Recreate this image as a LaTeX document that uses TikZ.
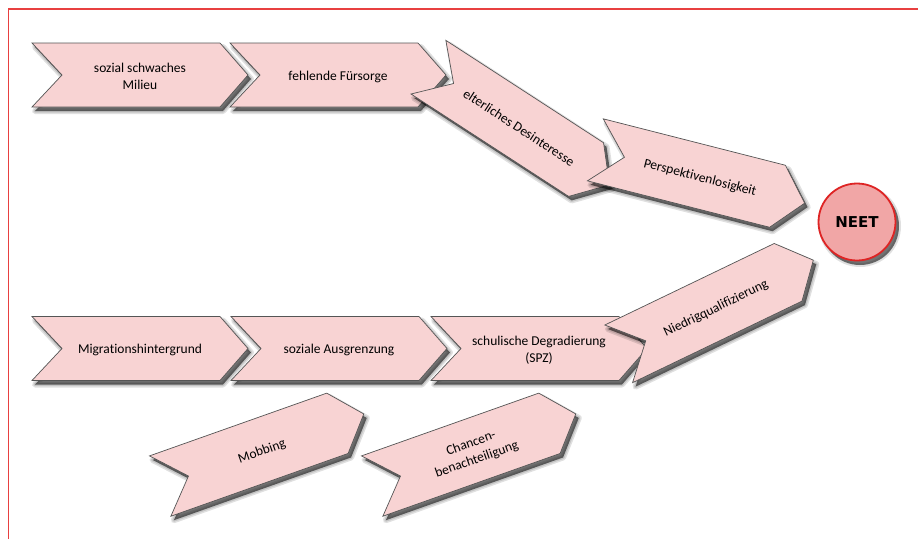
\documentclass[tikz,border=0pt]{standalone}
\usepackage{fontspec}
\setmainfont{Carlito}[Ligatures=NoCommon]
\newfontfamily\neetfont{DejaVu Sans}
\definecolor{chevfill}{RGB}{248,211,211}
\definecolor{chevline}{RGB}{85,85,85}
\definecolor{neetfill}{RGB}{241,166,166}
\definecolor{neetline}{RGB}{222,36,36}
\definecolor{framered}{RGB}{232,64,64}
\tikzset{
  chevbox/.style={fill=chevfill, draw=chevline, line width=0.7pt, line join=miter},
  shadowcore/.style={fill=black, opacity=0.55},
  shadowblur/.style={draw=black, opacity=0.12, line width=#1, line join=round},
  chevtext/.style={align=center, inner sep=0pt, text=black,
    font=\fontsize{13.5}{17}\selectfont},
  neetnode/.style={circle, minimum size=77pt, inner sep=0pt, fill=neetfill,
    draw=neetline, line width=1.8pt, font=\neetfont\bfseries\fontsize{15}{18}\selectfont}
}
% name, x, y, angle, text
\newcommand\chev[5]{%
  \begin{scope}[shift={(#2+3,#3+4)},rotate=#4]
    \path[shadowcore] (-108,-32) -- (80,-32) -- (108,0) -- (80,32) -- (-108,32) -- (-78,0) -- cycle;
    \path[shadowblur=3pt] (-108,-32) -- (80,-32) -- (108,0) -- (80,32) -- (-108,32) -- (-78,0) -- cycle;
    \path[shadowblur=6pt] (-108,-32) -- (80,-32) -- (108,0) -- (80,32) -- (-108,32) -- (-78,0) -- cycle;
  \end{scope}
  \begin{scope}[shift={(#2,#3)},rotate=#4]
    \path[chevbox] (-108,-32) -- (80,-32) -- (108,0) -- (80,32) -- (-108,32) -- (-78,0) -- cycle;
  \end{scope}
  \node[chevtext, rotate=#4] (#1) at (#2,#3+1.5) {#5};
}
\begin{document}
\begin{tikzpicture}[x=1pt,y=-1pt]
\useasboundingbox (0,0) rectangle (918,539);
\fill[white] (0,0) rectangle (918,539);
\coordinate (fbl) at (8.5,539);
\coordinate (ftl) at (8.5,9);
\coordinate (ftr) at (918,9);
\draw[framered, line width=1.5pt] (fbl) -- (ftl) -- (ftr);

\chev{n1}{140}{75}{0}{sozial schwaches\\Milieu}
\chev{n2}{338}{75}{0}{fehlende Fürsorge}
\chev{n3}{519}{126}{-33}{elterliches Desinteresse}
\chev{n4}{700}{176.5}{-14.3}{Perspektivenlosigkeit}

\chev{n5}{140}{348.5}{0}{Migrationshintergrund}
\chev{n6}{339}{348.5}{0}{soziale Ausgrenzung}
\chev{n7}{539}{348.5}{0}{schulische Degradierung\\(SPZ)}
\chev{n8}{716}{307}{25.7}{Niedrigqualifizierung}

\chev{n9}{262}{450}{19.5}{Mobbing}
\chev{n10}{474}{450}{19.5}{Chancen-\\benachteiligung}

\fill[black, opacity=0.55] (860,226) circle (39);
\draw[black, opacity=0.12, line width=4pt] (860,226) circle (39);
\node[neetnode] (neet) at (857,222) {NEET};
\end{tikzpicture}
\end{document}
